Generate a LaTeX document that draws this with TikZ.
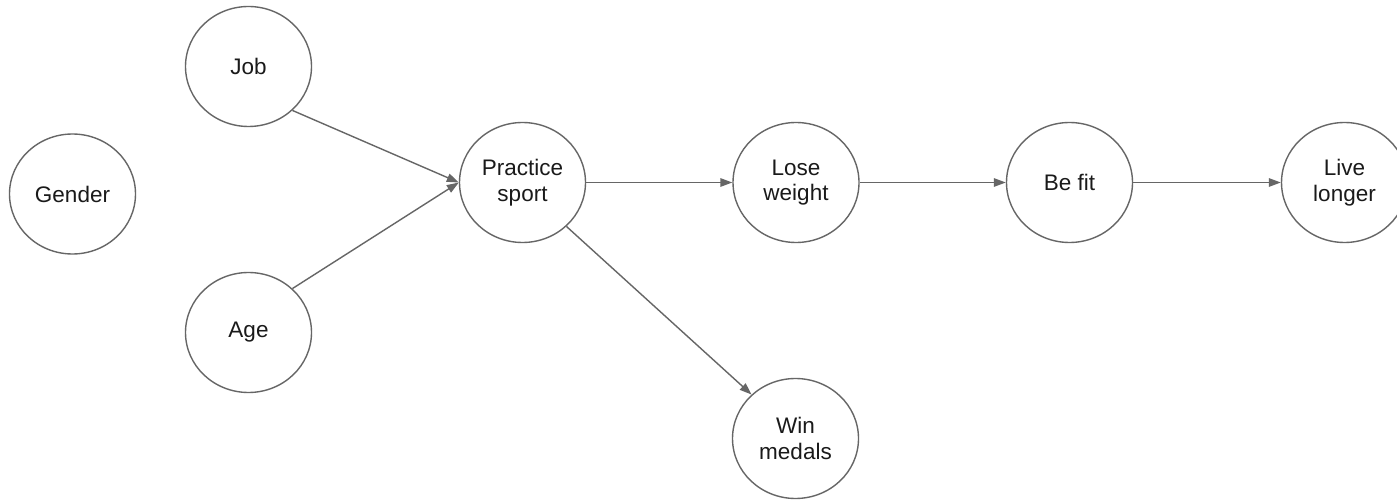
\documentclass[tikz,border=0pt]{standalone}
\usepackage{fontspec}
\setmainfont{Liberation Sans}
\usetikzlibrary{shapes.geometric,arrows.meta}
\definecolor{edge}{HTML}{666666}
\definecolor{ink}{HTML}{1A1A1A}
\begin{document}
\begin{tikzpicture}[x=1pt,y=-1pt,
  factor/.style={ellipse, draw=edge, line width=1.4pt, fill=white,
    minimum width=126pt, minimum height=120pt, inner sep=0pt,
    align=center, text=ink, font=\fontsize{22.5}{25.5}\selectfont},
  link/.style={draw=edge, line width=1.4pt,
    -{Triangle[length=12pt,width=8.5pt]}}]
  \clip (0,0) rectangle (1397,502);
  \fill[white] (0,0) rectangle (1397,502);

  % causes
  \node[factor] (gender) at (72.5,194)   {Gender};
  \node[factor] (job)    at (248.5,66.5) {Job};
  \node[factor] (age)    at (248.5,332.5){Age};

  % main chain
  \node[factor] (sport)  at (522.5,182.5) {Practice\\sport};
  \node[factor] (lose)   at (796,182.5)   {Lose\\weight};
  \node[factor] (fit)    at (1069.5,182.5){Be fit};
  \node[factor] (live)   at (1344.5,182.5){Live\\longer};
  \node[factor] (medals) at (795.5,438.5) {Win\\medals};

  % connectors
  \draw[link] (job.-45) -- (sport.west);
  \draw[link] (age.45)  -- (sport.west);
  \draw[link] (sport.east) -- (lose.west);
  \draw[link] (lose.east)  -- (fit.west);
  \draw[link] (fit.east)   -- (live.west);
  \draw[link] (sport.-45)  -- (medals.135);
\end{tikzpicture}
\end{document}
